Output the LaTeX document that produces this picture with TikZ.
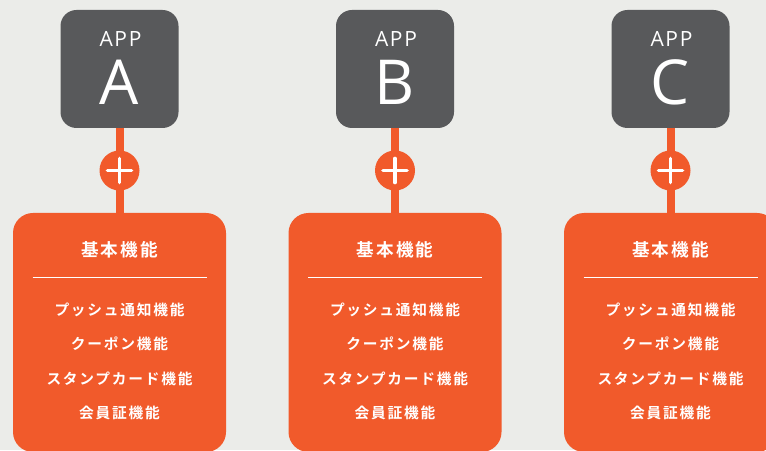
\documentclass[tikz,border=0pt]{standalone}
\usepackage{fontspec}
\setmainfont{Open Sans}
\newfontfamily\appfont{Open Sans}[LetterSpace=8]
\newfontfamily\jp{Noto Sans CJK JP}[BoldFont={Noto Sans CJK JP Bold},LetterSpace=12]
\definecolor{bg}{HTML}{EBECE9}
\definecolor{appgray}{HTML}{58595B}
\definecolor{accent}{HTML}{F15A2B}
\begin{document}
\begin{tikzpicture}[x=1pt,y=1pt,
  appbox/.style={fill=appgray, rounded corners=16pt, minimum width=118pt, minimum height=118pt, inner sep=0pt},
  featbox/.style={fill=accent, rounded corners=20pt, minimum width=213pt, minimum height=239pt, inner sep=0pt},
  plusnode/.style={circle, fill=accent, minimum size=40pt, inner sep=0pt},
  link/.style={draw=accent, line width=8pt},
  plusbar/.style={draw=white, line width=3.6pt, line cap=round},
  sepline/.style={draw=white, line width=0.9pt},
  apptxt/.style={text=white, font=\appfont\fontsize{21}{21}\selectfont, anchor=base, inner sep=0pt},
  letter/.style={text=white, font=\fontsize{62}{62}\selectfont, anchor=base, inner sep=0pt},
  titletxt/.style={text=white, font=\jp\bfseries\fontsize{17.6}{17.6}\selectfont, inner sep=0pt},
  itemtxt/.style={text=white, font=\jp\bfseries\fontsize{14.7}{14.7}\selectfont, inner sep=0pt}]
\useasboundingbox (0,0) rectangle (766,450);
\clip (0,0) rectangle (766,450);
\fill[bg] (0,0) rectangle (766,450);
\foreach \n/\L/\cx in {a/A/119.5, b/B/395, c/C/670.5}{
  \node[appbox] (app\n) at (\cx,381) {};
  \node[apptxt] (appl\n) at (\cx+1,403) {APP};
  \node[letter] (let\n) at (\cx,345) {\L};
  \node[featbox] (feat\n) at (\cx,117.5) {};
  \draw[link] (app\n.south) -- node[plusnode] (plus\n) {} (feat\n.north);
  \draw[plusbar] ([xshift=-12pt]plus\n.center) -- ([xshift=12pt]plus\n.center);
  \draw[plusbar] ([yshift=-12pt]plus\n.center) -- ([yshift=12pt]plus\n.center);
  \node[titletxt] (title\n) at (\cx,200) {基本機能};
  \coordinate (sl\n) at (\cx-87,173);
  \coordinate (sr\n) at (\cx+87,173);
  \draw[sepline] (sl\n) -- (sr\n);
  \node[itemtxt] (ia\n) at (\cx,140) {プッシュ通知機能};
  \node[itemtxt] (ib\n) at (\cx,106) {クーポン機能};
  \node[itemtxt] (ic\n) at (\cx,71) {スタンプカード機能};
  \node[itemtxt] (id\n) at (\cx,37) {会員証機能};
}
\end{tikzpicture}
\end{document}
